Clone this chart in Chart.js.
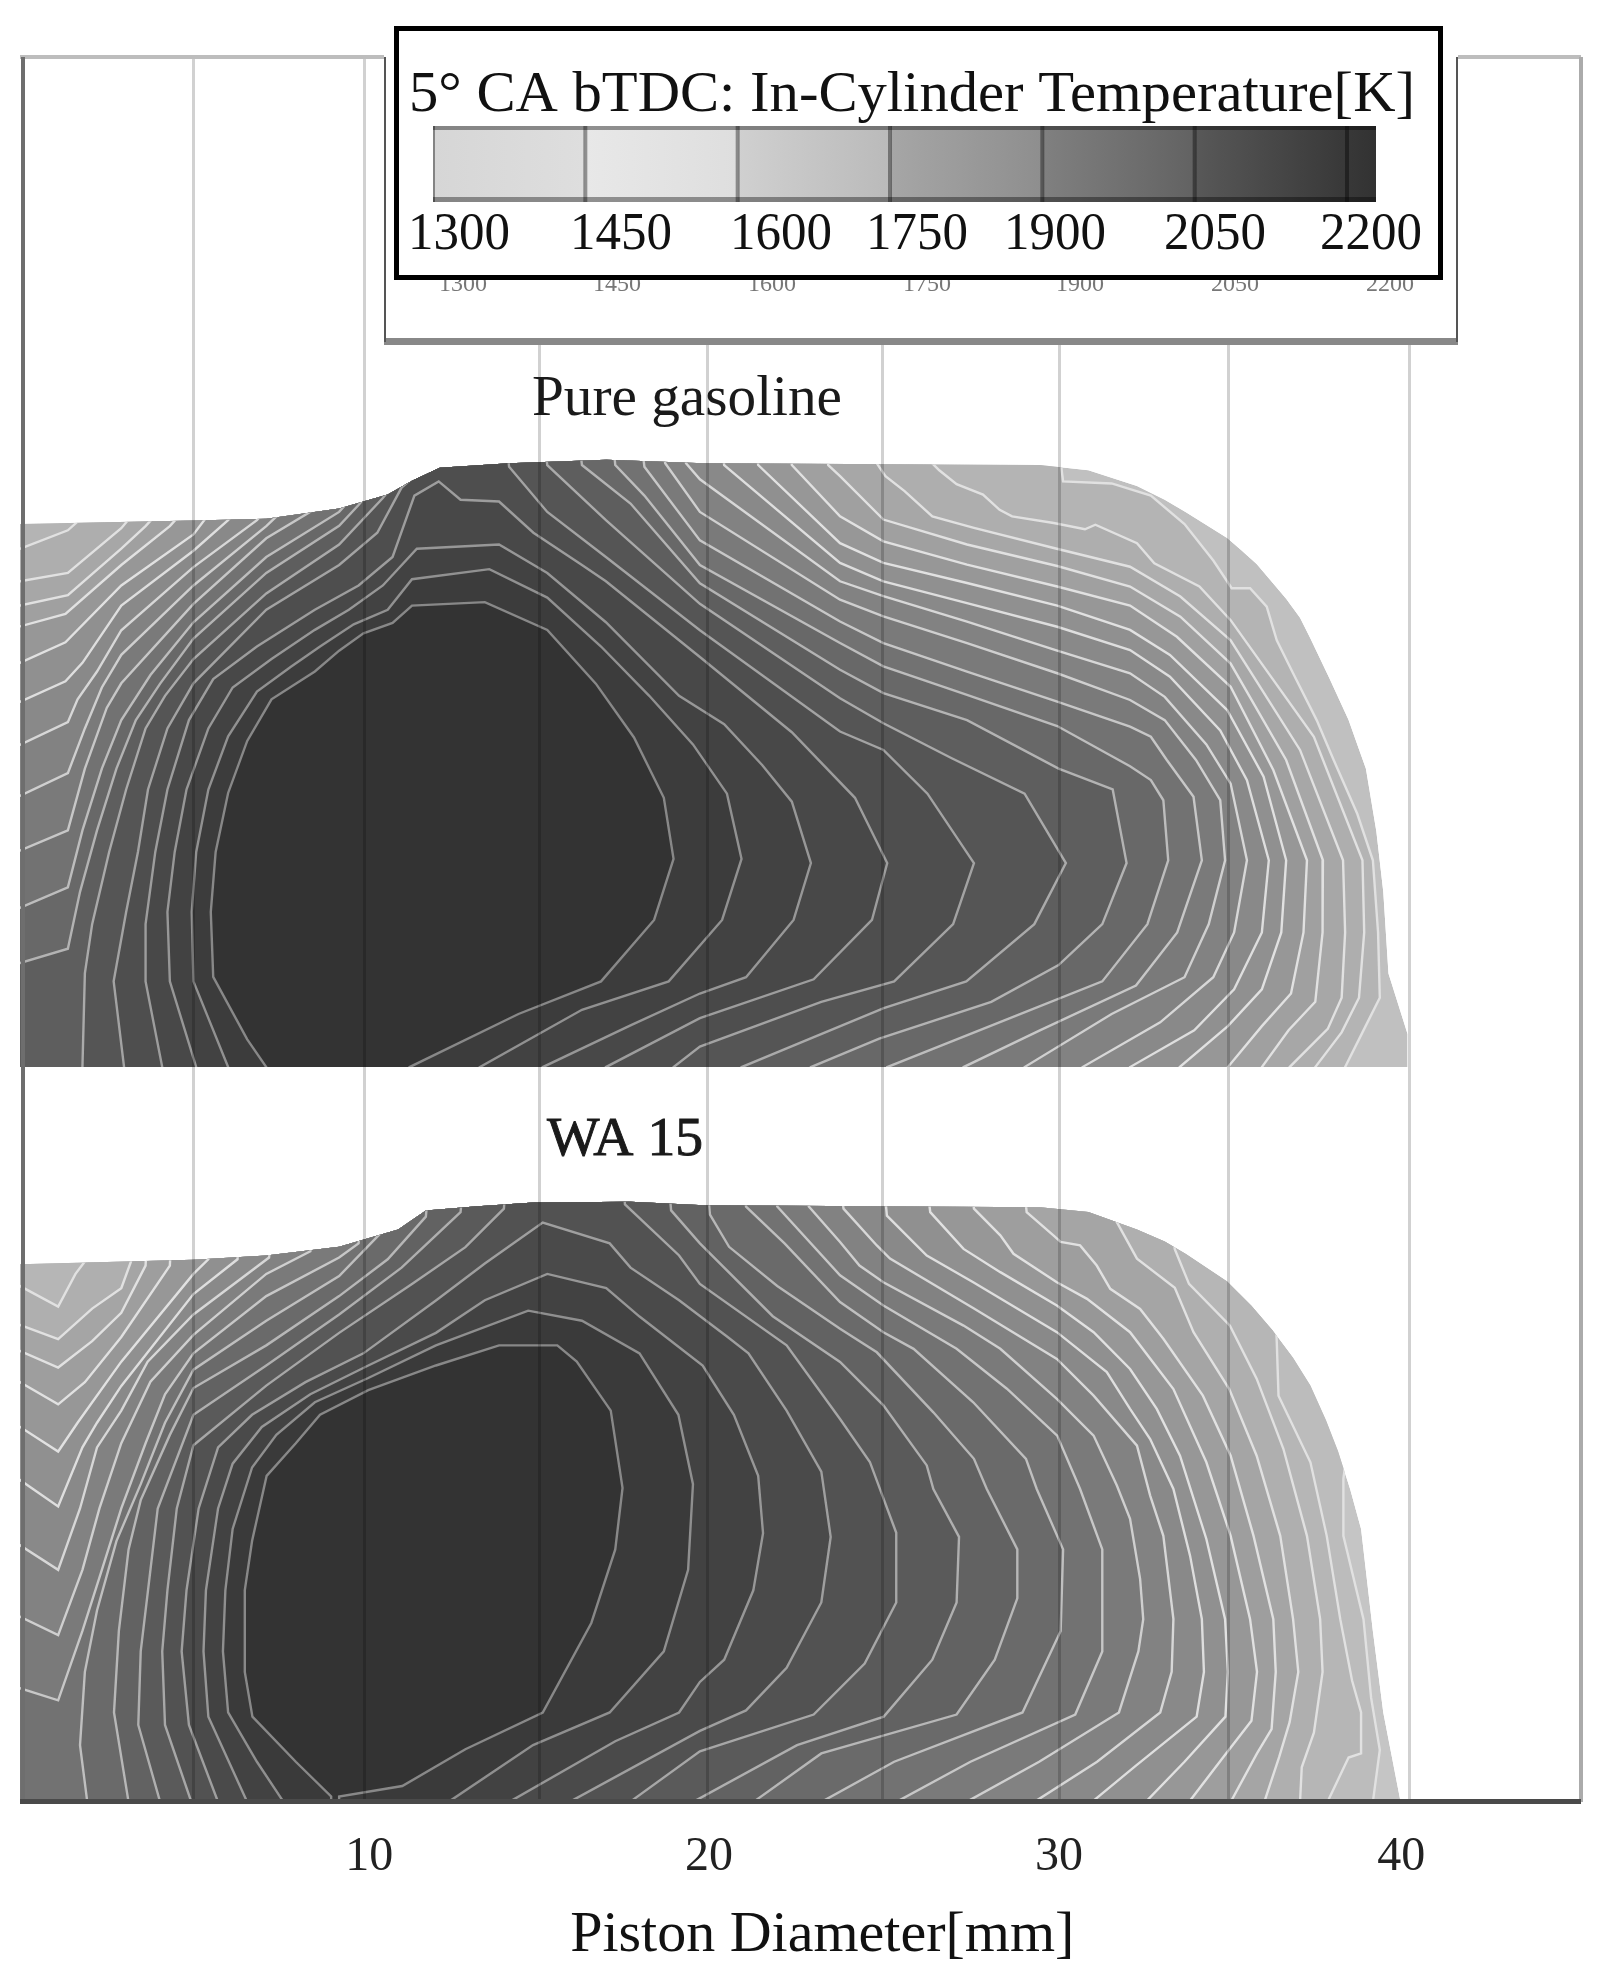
<!DOCTYPE html>
<html>
<head>
<meta charset="utf-8">
<title>In-Cylinder Temperature</title>
<script src="https://cdn.jsdelivr.net/npm/chart.js@4"></script>
<style>
  html, body { margin: 0; padding: 0; background: #fff; }
  canvas { display: block; }
</style>
</head>
<body>
<canvas id="chart" width="1605" height="1984"></canvas>
<script>
// Everything below is [piston diameter mm, height above the piston mm]
const tickValues = [10.07, 19.86, 29.95, 39.82];
const tickLabels = ["10", "20", "30", "40"];
const gridValues = [4.99, 9.92, 14.99, 19.83, 24.85, 29.98, 34.85, 40.07];
const barTemps = [1300, 1450, 1600, 1750, 1900, 2050, 2200];

const gasolineOutline = [[0,15.65],[5,15.75],[7.1,15.8],[9.2,16.1],[10.6,16.5],[11.3,16.9],[12.1,17.27],[14.1,17.4],[16.9,17.5],[19.7,17.4],[29.4,17.35],[30.8,17.2],[32.2,16.75],[33,16.35],[33.6,16],[34.8,15.25],[35.2,14.9],[35.65,14.5],[36.5,13.5],[36.9,12.95],[37.2,12.35],[37.75,11.2],[38.3,10],[38.55,9.3],[38.8,8.6],[39.1,6.8],[39.3,5.05],[39.45,2.7],[40,0.95],[40,0],[0,0]];
const wa15Outline = [[0,15.5],[5,15.63],[7.1,15.75],[9.2,16],[10.9,16.5],[11.7,17.05],[13.1,17.16],[14.8,17.28],[17.6,17.3],[19.7,17.2],[29.4,17.14],[30.8,17],[32.2,16.5],[33,16.15],[33.6,15.8],[34.8,15],[35.5,14.3],[36.1,13.6],[36.7,12.8],[37.2,12],[37.65,11],[38,10.1],[38.35,9],[38.66,7.87],[39,4.93],[39.3,2.58],[39.8,0],[0,0]];

// contours run hottest (core) first, outermost last
const gasolineContours = [
  [[7.1,0],[6.55,0.8],[5.57,2.6],[5.5,4.47],[5.64,6.2],[6,7.9],[6.55,9.4],[7.25,10.6],[8.5,11.4],[9.2,12],[9.9,12.5],[10.74,12.8],[11.3,13.3],[13.4,13.4],[15.2,12.6],[16.6,11.05],[17.7,9.5],[18.56,7.76],[18.84,6],[18.28,4.24],[16.75,2.47],[14.37,1.53],[11.23,0]],
  [[6,0],[5,2.47],[4.95,4.47],[5.08,6.2],[5.43,8],[6,9.53],[6.83,10.82],[7.8,11.53],[8.65,12.12],[9.62,12.76],[10.6,13.18],[11.3,14.06],[13.53,14.35],[15.2,13.53],[16.75,12.12],[18.14,10.7],[19.4,9.3],[20.38,7.88],[20.8,6],[20.24,4.24],[18.7,2.47],[16.2,1.65],[13.25,0]],
  [[5.08,0],[4.32,2.47],[4.25,4.47],[4.46,6.2],[4.8,8],[5.43,9.76],[6.13,10.94],[7.25,11.76],[8.5,12.6],[9.48,13.18],[10.46,13.88],[11.44,14.94],[13.81,15.06],[15.2,14.24],[16.89,12.82],[19,10.7],[20.3,9.88],[21.4,8.7],[22.25,7.65],[22.8,5.88],[22.3,4.24],[20.93,2.59],[19.6,2.12],[17.6,1.2],[15.07,0]],
  [[4.1,0],[3.62,2.47],[3.62,4.12],[3.9,6.2],[4.25,8],[4.87,10],[5.57,11.18],[6.83,12.12],[8.5,13.18],[9.76,13.88],[10.74,14.7],[11.37,16.47],[12.07,16.88],[12.7,16.35],[13.81,16.3],[14.8,15.4],[16.2,14.47],[16.89,14],[19.6,11.82],[22.25,9.65],[24.07,7.76],[25,5.88],[24.56,4.24],[22.88,2.53],[19.6,1.41],[16.89,0]],
  [[3,0],[2.7,2.47],[3.06,4.47],[3.4,6.2],[3.69,8],[4.25,9.76],[5,11.06],[7.1,13.18],[9.2,14.47],[10.3,15.4],[11,16.7],[11.7,17.3],[11.9,19],[13.9,19],[14.1,17.3],[15.2,16],[16.89,14.7],[19.6,12.59],[23.64,9.67],[24.89,9.14],[26.16,7.88],[27.5,5.88],[26.9,4.12],[25.2,2.47],[23.1,1.88],[19.6,0.59],[18.84,0]],
  [[1.8,0],[1.87,2.7],[2.08,4.12],[2.57,6.2],[3.06,8],[3.62,9.76],[4.18,10.7],[5,11.76],[7.1,13.65],[9.2,15.06],[10.46,16.4],[10.9,16.94],[11,19],[15,19],[15.2,17.35],[16.89,15.76],[19.6,13.35],[23.64,10.63],[24.89,9.91],[26.86,8.9],[28.96,7.88],[30.15,5.88],[29.24,4.12],[27.28,2.47],[24.9,1.7],[20.8,0]],
  [[0,3],[1.38,3.41],[1.73,5.05],[2.22,6.82],[2.78,8.6],[3.34,10],[4.04,11.05],[5,12.35],[7.1,14.24],[9.2,15.6],[9.76,16.2],[10.18,16.7],[10.3,19],[16,19],[16.2,17.35],[17.6,16.24],[19.6,13.94],[23.64,11.45],[24.89,10.78],[27.3,10],[29.94,8.6],[31.5,8],[31.9,5.88],[31.2,4.12],[29.94,2.94],[28,1.88],[24.77,0.82],[22.8,0]],
  [[0,4.59],[1.38,5.18],[1.8,6.82],[2.36,8.6],[2.92,10],[3.76,11.3],[5,12.82],[7.1,14.7],[9.2,16],[9.62,16.47],[9.8,19],[17,19],[17.16,17.35],[18,16.47],[19.6,14.47],[23.64,12.22],[24.89,11.55],[27.3,10.73],[29.9,9.83],[32,8.67],[32.6,8.27],[32.96,7.69],[33.1,5.96],[32.5,4.12],[31.2,2.47],[28.54,1.41],[25,0]],
  [[0,6.24],[1.38,6.82],[1.87,8.6],[2.5,10.35],[2.92,11.06],[5,13.35],[7.1,15.24],[8.37,16],[8.8,16.47],[9,19],[17.8,19],[18,17.3],[19.6,15.18],[23.64,12.84],[24.89,12.22],[27.3,11.4],[29.9,10.53],[32,9.81],[32.6,9.52],[33.06,8.85],[33.83,7.79],[34.07,5.96],[33.36,3.88],[32.17,2.35],[29.4,1.06],[27.2,0]],
  [[0,7.82],[1.38,8.47],[1.87,9.76],[2.36,10.94],[2.92,11.88],[5,13.88],[7.1,15.59],[7.53,16],[7.8,19],[18.4,19],[18.6,17.4],[19.6,16],[23.64,13.47],[24.89,12.99],[27.3,12.22],[29.9,11.35],[32,10.58],[33,10],[33.9,8.85],[34.6,7.69],[34.74,5.96],[34.27,4.12],[33.57,2.59],[31.47,1.53],[28.96,0]],
  [[0,9.29],[1.38,9.94],[1.66,10.6],[2.22,11.4],[2.92,12.59],[5,14.41],[6.83,15.76],[7.25,16.24],[7.4,19],[19,19],[19.2,17.4],[19.6,16.94],[23.64,14],[24.89,13.57],[27.3,12.84],[29.9,12],[32,11.35],[33,10.67],[34.2,9.3],[34.9,8.17],[35.37,5.96],[35,3.88],[34.4,2.59],[32.87,1.29],[30.63,0]],
  [[0,10.53],[1.31,11.12],[1.8,11.65],[2.92,13.3],[5,14.88],[6,15.76],[6.55,16.35],[6.7,19],[20.1,19],[20.3,17.35],[23.64,14.53],[24.89,14],[27.3,13.37],[29.9,12.69],[32,12.02],[33.15,11.25],[34.6,9.7],[35.37,8.27],[36,5.96],[35.8,3.88],[35,2.24],[33.85,1.06],[32,0]],
  [[0,11.65],[1.31,12.24],[2.92,13.88],[5,15.35],[5.57,16.1],[5.7,19],[21.1,19],[21.28,17.35],[23.64,15.1],[24.89,14.53],[27.3,13.95],[29.9,13.3],[32,12.6],[33.15,11.88],[34.8,10.29],[35.85,8.37],[36.5,5.96],[36.36,3.88],[35.8,2.24],[34.82,1.18],[33.43,0]],
  [[0,12.7],[1.31,13.06],[2.92,14.47],[4.32,15.59],[4.87,16.2],[5,19],[22.1,19],[22.25,17.35],[23.64,15.87],[24.89,15.15],[27.3,14.48],[29.9,13.85],[32,13.3],[33.35,12.4],[34.9,10.96],[36.13,8.56],[37.1,5.96],[37,3.88],[36.64,2.12],[35.8,1.18],[34.82,0]],
  [[0,13.3],[1.38,13.6],[2.92,14.94],[3.62,15.59],[4.18,16.2],[4.3,19],[23.1,19],[23.3,17.35],[23.64,17.03],[24.89,15.78],[27.3,15.06],[29.9,14.44],[32,13.85],[33.45,12.98],[34.9,11.63],[36.5,8.85],[37.56,5.96],[37.55,3.88],[37.34,1.88],[36.57,1.06],[35.8,0]],
  [[0,14],[1.38,14.24],[2.92,15.53],[3.48,16.2],[3.6,19],[24.5,19],[24.7,17.4],[24.95,17.03],[25.5,16.6],[26.3,15.87],[27.5,15.54],[29.8,14.96],[32,14.42],[33.45,13.56],[34.9,12.3],[36.9,9.14],[38.14,5.96],[38.2,3.88],[38.1,2],[37.7,1.1],[36.6,0]],
  [[0,14.94],[1.38,15.47],[2.2,16.2],[2.4,19],[26.1,19],[26.3,17.4],[26.5,17.2],[27,16.8],[27.76,16.5],[28.24,16.06],[28.6,15.87],[29.8,15.68],[30.7,15.5],[31,15.63],[32.2,15.1],[32.7,14.52],[34,13.85],[34.9,12.88],[37.3,9.52],[38.7,5.96],[38.75,3.88],[38.6,2],[38.1,1],[37.34,0]],
  [[0,19],[29.8,19],[30.07,16.88],[31.47,16.82],[32.6,16.47],[33.57,15.65],[34.4,14.6],[34.93,13.8],[35.46,13.8],[35.94,13.27],[36.23,12.3],[36.7,11.35],[37.38,10],[37.87,8.85],[38.55,7.3],[39,5.96],[39.15,3.88],[39.2,2],[38.7,1],[38.2,0]]
];

const wa15Contours = [
  [[8.97,0],[8.97,0.16],[7.95,1.16],[6.7,2.46],[6.48,3.75],[6.48,6.1],[6.69,7.52],[7.11,9.4],[7.95,10.34],[8.65,11.16],[10.04,11.87],[11.99,12.58],[13.81,13.16],[15.49,13.16],[16.05,12.69],[17.03,11.28],[17.37,9.05],[17.16,7.28],[16.47,5.16],[15.07,2.58],[12.84,1.52],[11.02,0.46],[9.2,0.16],[9.2,0]],
  [[7.6,0],[6.83,1.16],[6,2.58],[5.85,4.34],[5.92,6.1],[6.13,7.87],[6.69,9.64],[7.39,10.58],[8.5,11.52],[10.04,12.22],[11.99,13.16],[14.65,14.16],[16.2,13.87],[17.86,12.93],[18.98,11.16],[19.4,9.16],[19.26,6.69],[18.56,4.34],[17,2.58],[14.79,1.64],[12.35,0]],
  [[6.55,0],[5.43,2.46],[5.29,4.34],[5.36,6.1],[5.71,8.46],[6.13,9.75],[6.97,10.81],[8.37,11.75],[10.04,12.58],[11.99,13.52],[13.4,14.46],[15.2,15.22],[16.9,14.81],[17.86,13.99],[19.68,12.58],[20.58,11.16],[21.28,9.4],[21.42,7.75],[21.14,6.1],[20.3,4.1],[19.6,3.46],[19,2.58],[17.16,1.75],[14.1,0]],
  [[5.71,0],[4.87,2.22],[4.66,4.34],[4.8,6.1],[5.15,8.46],[5.71,10.22],[6.69,11.16],[8.23,12.1],[9.9,12.93],[12,14.46],[13.4,15.52],[15.07,16.7],[17,16.1],[17.6,15.4],[19,14.46],[20.4,13.4],[21,12.93],[22.1,11.28],[23.1,9.52],[23.37,7.64],[23.1,5.75],[22.1,3.87],[20.93,2.64],[19.6,2.05],[15.84,0]],
  [[4.94,0],[4.18,2.22],[4.1,4.34],[4.25,6.1],[4.52,8.46],[5,10.28],[7.1,12],[9.2,13.52],[11.3,14.93],[12.84,15.99],[13.95,17.1],[14.1,19],[17.3,19],[17.44,17.22],[19,15.75],[19.6,14.93],[22.1,13.16],[23.64,11.04],[24.5,9.8],[25.26,7.76],[25.26,5.75],[24.35,3.99],[22.88,2.52],[19.6,1.46],[17.58,0]],
  [[4.04,0],[3.41,2.22],[3.48,4.34],[3.69,6.1],[3.97,8.46],[5,11.16],[7.1,12.58],[9.2,14.05],[11,15.4],[12.7,17],[12.9,19],[18.6,19],[18.77,17.05],[19.6,16.1],[21.7,14],[23.64,12.68],[24.89,11.43],[26.14,9.7],[26.33,9.02],[27.07,7.64],[27,5.75],[26.3,4.1],[24.9,2.46],[22.4,1.64],[19.4,0]],
  [[3.13,0],[2.71,2.58],[2.85,4.93],[3.13,7.28],[3.48,8.7],[4.32,10.58],[5,11.93],[7.1,13.16],[9.2,14.58],[10.6,15.64],[11.7,16.87],[11.9,19],[19.7,19],[19.89,16.93],[20.44,16],[21.83,14.87],[23.64,13.64],[24.7,12.96],[26.33,11.23],[27.5,9.89],[27.87,9.02],[28.75,7.28],[28.75,5.87],[28.1,4.1],[27,2.52],[23.1,1.4],[21.14,0]],
  [[1.94,0],[1.73,1.64],[1.87,3.75],[2.22,5.52],[2.78,7.52],[3.48,9.16],[4.18,10.93],[5,12.46],[7.1,13.87],[9.2,15.16],[10.46,16.46],[10.7,19],[20.7,19],[20.93,17.16],[22.04,16.1],[23.64,14.41],[24.89,13.54],[25.76,13.06],[27.48,11.52],[29,9.89],[29.31,9.02],[30.07,7.28],[30,4.93],[28.9,2.58],[25.2,1.16],[23.1,0]],
  [[0,3.28],[1.1,2.93],[1.8,4.93],[2.36,6.69],[2.92,8.46],[3.62,10.34],[4.18,11.75],[5,12.93],[7.1,14.58],[9.2,15.69],[9.76,16.1],[10,19],[21.6,19],[21.83,17.16],[23.64,15.18],[24.89,14.31],[27,13.06],[28.45,11.91],[29.9,10.56],[30.56,9.02],[31.2,7.28],[31.2,4.34],[30.42,2.52],[27.4,1.16],[25.26,0]],
  [[0,5.34],[1.1,4.81],[1.8,6.69],[2.29,8.46],[2.92,10.34],[3.76,12.11],[5,13.46],[7.1,15.22],[8.37,15.87],[8.6,19],[22.5,19],[22.74,17.16],[23.64,16.14],[24.2,15.46],[24.89,14.98],[27.2,13.73],[28.26,13.06],[29.89,11.62],[30.95,10.56],[31.62,9.12],[32,8.16],[32.29,6.43],[32.38,5.27],[32.24,4.34],[31.68,2.58],[29.38,1.16],[27.28,0]],
  [[0,7.4],[1.1,6.69],[1.73,8.46],[2.22,10.22],[2.92,11.28],[3.68,12.69],[5,14.05],[7.18,15.69],[7.4,19],[23.5,19],[23.74,17.1],[24.7,16.04],[25.08,15.66],[27.5,14.22],[29.89,12.77],[30.95,11.71],[32.2,10.27],[32.58,8.83],[32.96,7.67],[33.25,5.27],[33.2,3.75],[32.87,2.58],[31.05,1.16],[29.24,0]],
  [[0,9.28],[1.1,8.52],[1.8,10.22],[2.22,10.93],[2.92,11.99],[5,14.64],[6.27,15.64],[6.5,19],[24.8,19],[24.99,16.9],[26.14,15.75],[27.48,14.98],[29.89,13.54],[31.33,12.39],[32,11.33],[32.58,10.46],[33.25,9.02],[33.73,7.1],[34.07,5.27],[34.13,3.75],[33.92,2.46],[32.17,1.05],[30.9,0]],
  [[0,10.81],[1.1,10.1],[1.66,10.93],[2.92,12.69],[5,15.22],[5.43,15.64],[5.6,19],[26,19],[26.24,17],[27.2,15.94],[28.26,15.27],[29.89,14.31],[30.95,13.54],[32,12.48],[32.77,11.33],[33.44,9.98],[34.2,7.58],[34.74,5.27],[34.82,3.75],[34.75,2.46],[33.57,1.16],[32.45,0]],
  [[0,12.1],[1.1,11.46],[1.87,12.1],[2.92,13.4],[4.32,15.46],[4.5,19],[27.3,19],[27.5,17.1],[28.26,16.33],[28.64,15.8],[29.89,14.98],[30.76,14.5],[32,13.54],[33.25,11.9],[34.2,9.79],[34.9,7.67],[35.46,5.27],[35.66,3.75],[35.5,2.34],[34.68,1.28],[33.7,0]],
  [[0,13],[1.1,12.52],[2.08,13.28],[2.92,14.1],[3.62,15.46],[3.8,19],[28.8,19],[29.02,17],[29.79,16.33],[30,16.14],[30.56,16.04],[31.04,15.46],[31.43,14.79],[32.29,14.21],[32.96,13.35],[34.1,11.71],[34.9,9.98],[35.56,7.67],[36.13,5.27],[36.2,3.75],[36.08,2.1],[35.66,1.4],[34.9,0]],
  [[0,13.75],[1.1,13.34],[2.08,14.22],[2.92,14.81],[3.2,15.58],[3.4,19],[31.3,19],[31.5,16.93],[32.2,15.66],[33.29,14.82],[33.83,13.54],[34.86,11.9],[35.65,9.98],[36.33,7.67],[36.7,5.27],[36.85,3.75],[36.6,2.3],[36.3,1.3],[35.87,0]],
  [[0,14.87],[1.1,14.28],[1.6,15.22],[2,15.75],[2.2,19],[33,19],[33.29,15.93],[33.7,14.93],[34.88,13.73],[35.65,12.2],[36.42,10.18],[37.1,7.67],[37.48,5.27],[37.55,3.75],[37.3,2],[36.95,1],[36.9,0]],
  [[0,19],[36,19],[36.23,13.25],[36.28,11.71],[37.2,9.79],[37.67,7.67],[38.06,5.27],[38.4,3.5],[38.66,2.58],[38.66,1.4],[38.3,1.28],[37.69,0]],
  [[0,19],[38,19],[38.3,10.5],[38.15,9.31],[38.15,7.67],[38.73,5.27],[38.95,3],[39.2,1.5],[39,0]]
];

// fill greys, same order as the contours, then the rim outside the last one
const gasolineGrays = [51, 60, 66, 72, 78, 85, 94, 104, 114, 122, 130, 137, 144, 151, 160, 167, 174, 180, 192];
const wa15Grays = [51, 58, 66, 74, 82, 90, 98, 106, 114, 122, 130, 137, 144, 151, 158, 165, 175, 182, 188, 197];

const toPoints = (pts) => pts.map(([x, y]) => ({ x, y }));

// push the ends past the plot edge so the closing run never shows, the clip cuts it
function closeContour(pts) {
  const first = pts[0];
  const last = pts[pts.length - 1];
  if (first[1] === 0) return [[first[0], -1], ...pts, [last[0], -1]];
  return [[-1, first[1]], ...pts, [last[0], -1], [-1, -1]];
}

function bandDataset(pts, gray, yAxisID, hasLine) {
  const lineGray = Math.min(225, gray + 85);
  return {
    type: "scatter",
    data: toPoints(pts),
    yAxisID,
    showLine: true,
    fill: "shape",
    tension: 0,
    pointRadius: 0,
    backgroundColor: `rgb(${gray},${gray},${gray})`,
    borderColor: `rgb(${lineGray},${lineGray},${lineGray})`,
    borderWidth: hasLine ? 2.4 : 0,
  };
}

function panelDatasets(outline, contours, grays, yAxisID) {
  const list = [bandDataset(outline, grays[contours.length], yAxisID, false)];
  // outermost first so the hotter bands paint over it
  for (let i = contours.length - 1; i >= 0; i--) {
    list.push(bandDataset(closeContour(contours[i]), grays[i], yAxisID, true));
  }
  return list;
}

const datasets = [
  ...panelDatasets(gasolineOutline, gasolineContours, gasolineGrays, "yTop"),
  ...panelDatasets(wa15Outline, wa15Contours, wa15Grays, "yBottom"),
];
// chart.js paints the lowest order last
datasets.forEach((d, i) => { d.order = datasets.length - i; });

function tracePanel(ctx, chart, outline, yId) {
  const x = chart.scales.x;
  const y = chart.scales[yId];
  outline.forEach(([px, py], i) => {
    const cx = x.getPixelForValue(px);
    const cy = y.getPixelForValue(py);
    if (i === 0) ctx.moveTo(cx, cy);
    else ctx.lineTo(cx, cy);
  });
  ctx.closePath();
}

// squeeze or stretch a string to the width it has in the picture
function fitText(ctx, text, cx, baseline, width, heavy) {
  const w = ctx.measureText(text).width;
  ctx.save();
  ctx.translate(cx, baseline);
  ctx.scale(width / w, 1);
  ctx.textAlign = "center";
  ctx.fillText(text, 0, 0);
  if (heavy) {
    ctx.strokeStyle = ctx.fillStyle;
    ctx.lineWidth = heavy;
    ctx.strokeText(text, 0, 0);
  }
  ctx.restore();
}

const SERIF = '"Liberation Serif", serif';

const contourClip = {
  id: "contourClip",
  beforeDatasetsDraw(chart) {
    const { ctx } = chart;
    ctx.save();
    ctx.beginPath();
    tracePanel(ctx, chart, gasolineOutline, "yTop");
    tracePanel(ctx, chart, wa15Outline, "yBottom");
    ctx.clip();
  },
  afterDatasetsDraw(chart) {
    chart.ctx.restore();
  },
};

const frameAndLegend = {
  id: "frameAndLegend",
  afterDraw(chart) {
    const { ctx, chartArea: a } = chart;
    ctx.save();

    // plot frame
    ctx.fillStyle = "#bdbdbd";
    ctx.fillRect(a.left, a.top - 2, a.right - a.left, 4);
    ctx.fillStyle = "#ababab";
    ctx.fillRect(a.right - 2, a.top, 4, a.bottom - a.top);
    ctx.fillStyle = "#6e6e6e";
    ctx.fillRect(a.left + 1, a.top, 4, a.bottom - a.top);
    ctx.fillStyle = "#4a4a4a";
    ctx.fillRect(a.left, a.bottom - 3, a.right - a.left, 5);

    // panel names
    ctx.fillStyle = "#1a1a1a";
    ctx.font = `57px ${SERIF}`;
    fitText(ctx, "Pure gasoline", 687, 415, 310);
    ctx.font = `54px ${SERIF}`;
    fitText(ctx, "WA 15", 625, 1155, 156, 0.9);

    // the older legend still showing behind the black box
    ctx.fillStyle = "#fff";
    ctx.fillRect(384, 30, 1074, 309);
    ctx.fillStyle = "#888";
    ctx.fillRect(384, 338, 1074, 7);
    ctx.fillStyle = "#555";
    ctx.fillRect(384, 57, 2, 285);
    ctx.fillRect(1456, 57, 2, 285);
    ctx.fillStyle = "#777";
    ctx.font = `24px ${SERIF}`;
    ctx.textAlign = "center";
    const ghostX = [463, 617, 772, 927, 1080, 1235, 1390];
    barTemps.forEach((t, i) => ctx.fillText(String(t), ghostX[i], 291));

    // legend box
    ctx.fillStyle = "#fff";
    ctx.fillRect(395, 27, 1048, 251);
    ctx.strokeStyle = "#000";
    ctx.lineWidth = 5;
    ctx.strokeRect(396.5, 28.5, 1044, 249);

    ctx.fillStyle = "#111";
    ctx.font = `56px ${SERIF}`;
    fitText(ctx, "5\u00b0 CA bTDC: In-Cylinder Temperature[K]", 912, 111, 1006);

    // colour bar
    const barLeft = 433;
    const barEnd = 1347;
    const barRight = 1376;
    const tempX = (t) => barLeft + ((t - 1300) / 900) * (barEnd - barLeft);
    const grad = ctx.createLinearGradient(barLeft, 0, barRight, 0);
    const stops = [[0, 214], [0.161, 222], [0.162, 232], [0.323, 222], [0.324, 208], [0.485, 186], [0.486, 166], [0.646, 142], [0.647, 128], [0.808, 98], [0.809, 88], [0.969, 56], [1, 50]];
    stops.forEach(([p, g]) => grad.addColorStop(p, `rgb(${g},${g},${g})`));
    ctx.fillStyle = grad;
    ctx.fillRect(barLeft, 126, barRight - barLeft, 76);
    ctx.fillStyle = "rgba(0,0,0,0.38)";
    ctx.fillRect(barLeft, 126, barRight - barLeft, 4);
    ctx.fillRect(barLeft, 197, barRight - barLeft, 5);
    ctx.fillRect(barLeft, 126, 2, 76);
    barTemps.slice(1).forEach((t) => ctx.fillRect(tempX(t) - 2, 126, 4, 76));

    ctx.fillStyle = "#111";
    ctx.font = `52px ${SERIF}`;
    const labelX = [459, 621, 781, 917, 1055, 1215, 1371];
    barTemps.forEach((t, i) => fitText(ctx, String(t), labelX[i], 249, 102));

    ctx.restore();
  },
};

new Chart(document.getElementById("chart").getContext("2d"), {
  data: { datasets },
  plugins: [contourClip, frameAndLegend],
  options: {
    responsive: false,
    animation: false,
    devicePixelRatio: 1,
    layout: { padding: { left: 20, right: 24, top: 57, bottom: 0 } },
    plugins: { legend: { display: false }, tooltip: { enabled: false } },
    scales: {
      x: {
        type: "linear",
        position: "bottom",
        min: 0,
        max: 45,
        afterBuildTicks(scale) {
          scale.ticks = tickValues.map((value) => ({ value }));
        },
        afterFit(scale) {
          scale.height = 182;
        },
        grid: { display: false },
        border: { display: false },
        ticks: {
          autoSkip: false,
          maxRotation: 0,
          padding: 19,
          color: "#222",
          font: { family: SERIF, size: 48 },
          callback: (value, index) => tickLabels[index],
        },
        title: {
          display: true,
          // leading spaces: the title sits a little right of the plot centre
          text: "   Piston Diameter[mm]",
          color: "#111",
          font: { family: SERIF, size: 58 },
          padding: { top: 0, bottom: 13 },
        },
      },
      // second x axis only carries the uneven grid lines
      x2: {
        type: "linear",
        position: "bottom",
        min: 0,
        max: 45,
        afterBuildTicks(scale) {
          scale.ticks = gridValues.map((value) => ({ value }));
        },
        afterFit(scale) {
          scale.height = 0;
        },
        grid: { z: 1, color: "rgba(0,0,0,0.18)", lineWidth: 3, drawTicks: false },
        border: { display: false },
        ticks: { display: false },
      },
      yTop: { type: "linear", display: false, min: -21.18, max: 29.11 },
      yBottom: { type: "linear", display: false, min: 0, max: 50.29 },
    },
  },
});
</script>
</body>
</html>
